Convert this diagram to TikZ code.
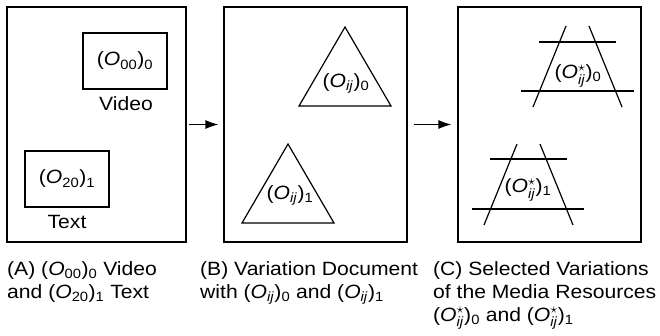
\documentclass[tikz,border=0pt]{standalone}
\usepackage{fontspec}
\usepackage{amsmath}
\setmainfont{Liberation Sans}[FakeStretch=1.1]
\usetikzlibrary{arrows.meta}
\newcommand{\Obj}[2]{(\textit{O}$_{\text{#1}}$)$_{\text{#2}}$}
\newcommand{\Ostar}[1]{(\textit{O}$^{\smash{\star}}_{\text{\textit{ij}}}$)$_{\text{#1}}$}
\tikzset{
  frame/.style={draw, line width=1.2pt, inner sep=0pt},
  panel/.style={frame, minimum width=#1, minimum height=235pt},
  inbox/.style={frame, minimum width=84pt, minimum height=56pt},
  lbl/.style={inner sep=0pt},
  shp/.style={line width=1.2pt, line join=miter},
  arr/.style={line width=1.2pt, -{Latex[length=13pt,width=9pt]}},
  captxt/.style={inner sep=0pt, anchor=base west, align=left},
}
\begin{document}
\begin{tikzpicture}[x=1pt,y=-1pt, font=\fontsize{19.2}{23}\selectfont]
\useasboundingbox (0,0) rectangle (660,335);
% panels
\node[panel=179pt] (A) at (96.5,124.5) {};
\node[panel=183pt] (B) at (315.5,124.5) {};
\node[panel=183pt] (C) at (549.5,124.5) {};
% arrows
\draw[arr, shorten <=2pt, shorten >=5pt] (A) -- (B);
\draw[arr, shorten <=6pt, shorten >=6pt] (B) -- (C);
% panel A
\node[inbox] (vbox) at (125,61) {\Obj{00}{0}};
\node[inbox] (tbox) at (67,179) {\Obj{20}{1}};
\node[lbl] (vlab) at (126,104) {Video};
\node[lbl] (tlab) at (67,222) {Text};
% panel B
\draw[shp] (345,27) -- (391,106) -- (299,106) -- cycle;
\draw[shp] (288,144) -- (334,223) -- (242,223) -- cycle;
\node[lbl] (b0) at (346,83) {\Obj{\textit{ij}}{0}};
\node[lbl] (b1) at (290,195) {\Obj{\textit{ij}}{1}};
% panel C
\draw[shp] (539,42) -- (616,42);
\draw[shp] (521,91) -- (634,91);
\draw[shp] (566,26) -- (533,107);
\draw[shp] (589,26) -- (622,107);
\draw[shp] (490,159) -- (567,159);
\draw[shp] (472,209) -- (584,209);
\draw[shp] (517,144) -- (484,225);
\draw[shp] (540,144) -- (573,225);
\node[lbl] (c0) at (578,76) {\Ostar{0}};
\node[lbl] (c1) at (528,190) {\Ostar{1}};
% captions (base = baseline of last line)
\node[captxt] (capA) at (7,298) {(A) \Obj{00}{0} Video\\and \Obj{20}{1} Text};
\node[captxt] (capB) at (200,298) {(B) Variation Document\\with \Obj{\textit{ij}}{0} and \Obj{\textit{ij}}{1}};
\node[captxt] (capC) at (433,321) {(C) Selected Variations\\of the Media Resources\\\Ostar{0} and \Ostar{1}};
\end{tikzpicture}
\end{document}
